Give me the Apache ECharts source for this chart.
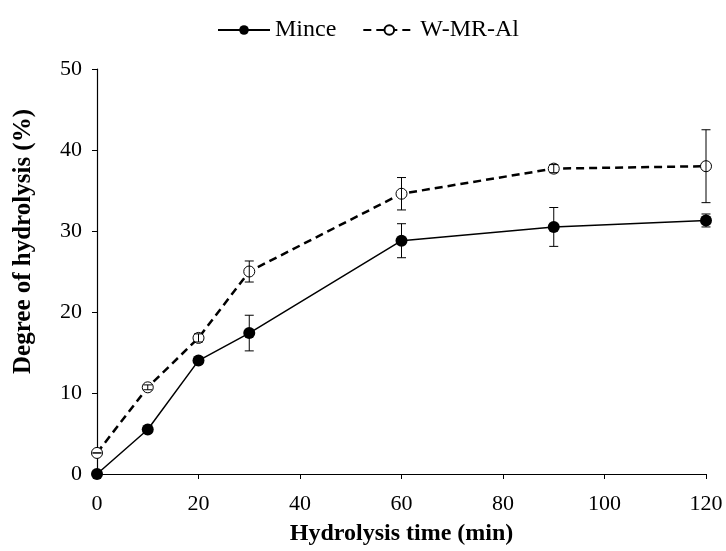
<!DOCTYPE html>
<html>
<head>
<meta charset="utf-8">
<script src="https://cdn.jsdelivr.net/npm/echarts@6/dist/echarts.min.js"></script>
<style>html,body{margin:0;padding:0;background:#fff;}#c{width:726px;height:551px;}</style>
</head>
<body>
<div id="c"></div>
<script>
const times = [0, 10, 20, 30, 60, 90, 120];
const minceValues = [0, 5.5, 14.0, 17.4, 28.8, 30.5, 31.3];
const minceErrors = [0, 0, 0, 2.2, 2.1, 2.4, 0.8];
const wmrValues = [2.6, 10.7, 16.8, 25.0, 34.6, 37.7, 38.0];
const wmrErrors = [0, 0.3, 0.5, 1.3, 2.0, 0.5, 4.5];
const xTicks = [0, 20, 40, 60, 80, 100, 120];
const yTicks = [0, 10, 20, 30, 40, 50];

const FONT = '"Liberation Serif", "Times New Roman", serif';

function errData(vals, errs) {
  return times.map((t, i) => [t, vals[i] - errs[i], vals[i] + errs[i]]);
}
function errRender(params, api) {
  const x = api.value(0);
  const lo = api.coord([x, api.value(1)]);
  const hi = api.coord([x, api.value(2)]);
  const w = 4.5;
  const style = { stroke: '#000', lineWidth: 1, fill: 'none' };
  return {
    type: 'group',
    children: [
      { type: 'line', shape: { x1: lo[0], y1: lo[1], x2: hi[0], y2: hi[1] }, style },
      { type: 'line', shape: { x1: lo[0] - w, y1: lo[1], x2: lo[0] + w, y2: lo[1] }, style },
      { type: 'line', shape: { x1: hi[0] - w, y1: hi[1], x2: hi[0] + w, y2: hi[1] }, style }
    ]
  };
}

const chart = echarts.init(document.getElementById('c'));
chart.setOption({
  animation: false,
  backgroundColor: '#fff',
  textStyle: { fontFamily: FONT, color: '#000' },
  legend: {
    data: ['Mince', 'W-MR-Al'],
    top: 13,
    left: 212,
    itemWidth: 52,
    itemHeight: 12,
    itemGap: 26,
    textStyle: { fontFamily: FONT, fontSize: 24, color: '#000' }
  },
  grid: { left: 97, right: 20, top: 69, bottom: 74 },
  xAxis: {
    type: 'value', min: 0, max: 120, interval: 20,
    name: 'Hydrolysis time (min)', nameLocation: 'middle', nameGap: 48,
    nameTextStyle: { fontFamily: FONT, fontSize: 24, fontWeight: 'bold', color: '#000' },
    axisLine: { show: true, lineStyle: { color: '#000', width: 1.2 } },
    axisTick: { show: true, length: 5, inside: false, lineStyle: { color: '#000' } },
    axisLabel: { fontFamily: FONT, fontSize: 22, color: '#000', margin: 19,
      formatter: v => xTicks.includes(v) ? String(v) : '' },
    splitLine: { show: false }
  },
  yAxis: {
    type: 'value', min: 0, max: 50, interval: 10,
    name: 'Degree of hydrolysis (%)', nameLocation: 'middle', nameGap: 61,
    nameTextStyle: { fontFamily: FONT, fontSize: 25, fontWeight: 'bold', color: '#000',
      padding: [0, 0, 0, 60] },
    axisLine: { show: true, lineStyle: { color: '#000', width: 1.2 } },
    axisTick: { show: true, length: 5, inside: false, lineStyle: { color: '#000' } },
    axisLabel: { fontFamily: FONT, fontSize: 22, color: '#000', margin: 15,
      formatter: v => yTicks.includes(v) ? String(v) : '' },
    splitLine: { show: false }
  },
  series: [
    {
      name: 'Mince', type: 'line',
      data: times.map((t, i) => [t, minceValues[i]]),
      symbol: 'circle', symbolSize: 12,
      lineStyle: { color: '#000', width: 1.5, type: 'solid' },
      itemStyle: { color: '#000', borderColor: '#000', borderWidth: 0 },
      z: 3
    },
    {
      name: 'W-MR-Al', type: 'line',
      data: times.map((t, i) => [t, wmrValues[i]]),
      symbol: 'circle', symbolSize: 11, showAllSymbol: true,
      lineStyle: { color: '#000', width: 2.5, type: [8, 5] },
      itemStyle: { color: '#fff', borderColor: '#000', borderWidth: 1 },
      z: 3
    },
    {
      name: 'errMince', type: 'custom', renderItem: errRender,
      data: errData(minceValues, minceErrors), z: 4, silent: true
    },
    {
      name: 'errW', type: 'custom', renderItem: errRender,
      data: errData(wmrValues, wmrErrors), z: 4, silent: true
    }
  ]
});
</script>
</body>
</html>
